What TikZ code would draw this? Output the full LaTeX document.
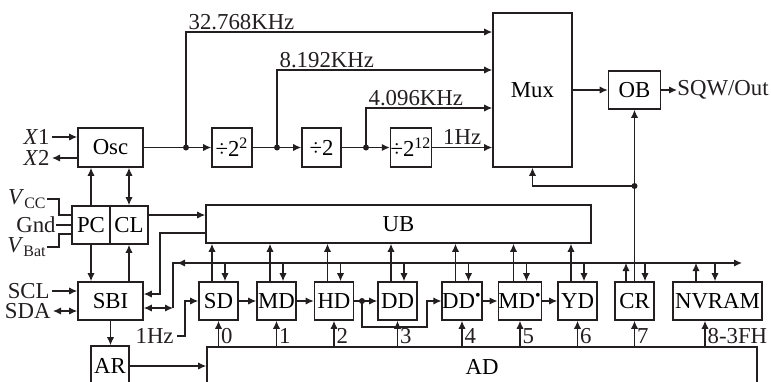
\documentclass[tikz,border=0pt]{standalone}
\usepackage{fontspec}
\setmainfont{Liberation Serif}
\usepackage{xcolor}
\usepackage{tikz}
\usetikzlibrary{arrows.meta, calc}
\definecolor{rtInk}{HTML}{231F20}
\tikzset{
  rtc-box/.style={
    rectangle, draw=rtInk, line width=0.8pt, fill=white, inner sep=0pt,
    minimum width=19.5pt, minimum height=19pt, align=center
  },
  rtc-flow/.style={-{Latex[length=4pt,width=3.6pt]}, line width=0.6pt, draw=rtInk},
  rtc-biflow/.style={{Latex[length=4pt,width=3.6pt]}-{Latex[length=4pt,width=3.6pt]},
    line width=0.6pt, draw=rtInk},
  rtc-line/.style={line width=0.6pt, draw=rtInk},
  rtc-dot/.style={circle, fill=rtInk, inner sep=0pt, minimum size=3pt},
  rtc-lbl/.style={inner sep=1pt, text=rtInk},
  rtc-pin/.style={inner sep=0pt, text=rtInk, anchor=east},
}

\begin{document}
\begin{tikzpicture}[x=0.5pt, y=-0.5pt, font=\fontsize{11.4}{13}\selectfont]
  \useasboundingbox (0,0) rectangle (771,381);

  \node[rtc-box, minimum width=32.5pt, minimum height=19.5pt] (osc) at (110.5,147.5) {Osc};
  \node[rtc-box, minimum width=20pt, minimum height=19.5pt]   (dva) at (232,147.5) {÷2\textsuperscript{2}};
  \node[rtc-box, minimum height=19.5pt]                       (dvb) at (321.5,147.5) {÷2};
  \node[rtc-box, minimum width=19pt, minimum height=19.5pt]   (dvc) at (411,147.5) {÷2\textsuperscript{12}};
  \node[rtc-box, minimum width=39.5pt, minimum height=77pt]   (mux) at (532.5,90) {Mux};
  \node[rtc-box, minimum width=26pt]                          (ob)  at (634.5,90) {OB};
  \node[rtc-lbl, anchor=west, inner sep=0pt]                  (sqw) at (677,90) {SQW/Out};

  \node[rtc-box, minimum width=19pt] (pc)  at (91,225) {PC};
  \node[rtc-box, minimum width=19pt] (cl)  at (129,225) {CL};
  \node[rtc-box, minimum width=192.5pt] (ub) at (398.5,224) {UB};
  \node[rtc-box, minimum width=32.5pt] (sbi) at (110.5,301) {SBI};
  \node[rtc-box, minimum width=19pt, minimum height=20pt] (ar) at (110,366) {AR};
  \node[rtc-box, minimum width=275pt, minimum height=20pt] (ad) at (482,367) {AD};

  \node[rtc-box] (sd)  at (218.5,301) {SD};
  \node[rtc-box] (md)  at (276.5,301) {MD};
  \node[rtc-box] (hd)  at (334,301)   {HD};
  \node[rtc-box] (dd)  at (397.5,301) {DD};
  \node[rtc-box] (dds) at (462,301)   {DD\textsuperscript{\textbullet}};
  \node[rtc-box] (mds) at (520,301)   {MD\textsuperscript{\textbullet}};
  \node[rtc-box] (yd)  at (577.5,301) {YD};
  \node[rtc-box] (cr)  at (634.5,301) {CR};
  \node[rtc-box, minimum width=44.5pt] (nv) at (717.5,301) {NVRAM};

  \node[rtc-pin] (xa)   at (50,137)  {\textit{X}1};
  \node[rtc-pin] (xb)   at (50,158)  {\textit{X}2};
  \node[rtc-pin] (vcc)  at (47,199)  {\textit{V}\textsubscript{CC}};
  \node[rtc-pin] (gnd)  at (56,225)  {Gnd};
  \node[rtc-pin] (vbat) at (47,247)  {\textit{V}\textsubscript{Bat}};
  \node[rtc-pin] (scl)  at (50,291)  {SCL};
  \node[rtc-pin] (sda)  at (51,311)  {SDA};
  \node[rtc-pin] (onehz) at (174,336) {1Hz};

  \node[rtc-dot] (tapa)  at (186,147.5) {};
  \node[rtc-dot] (tapb)  at (277,147.5) {};
  \node[rtc-dot] (tapc)  at (366,147.5) {};
  \node[rtc-dot] (crtap) at (634.5,186) {};
  \node[rtc-dot] (hdtap) at (362,301)   {};
  \coordinate (hop)     at (427,327);
  \coordinate (ubdrop)  at (160,294);
  \coordinate (sbiport) at (173,308);
  \coordinate (busl)    at (173,263);
  \coordinate (busr)    at (742,263);

  \draw[rtc-flow] ([xshift=1pt]xa.east) -- (xa.east -| osc.west);
  \draw[rtc-flow] (xb.east -| osc.west) -- ([xshift=1pt]xb.east);
  \draw[rtc-flow] (osc) -- (dva);
  \draw[rtc-flow] (dva) -- (dvb);
  \draw[rtc-flow] (dvb) -- (dvc);
  \draw[rtc-flow] (tapa.center) |- ([yshift=29pt]mux.west)
    node[pos=0.5, anchor=south west, rtc-lbl] {32.768KHz};
  \draw[rtc-flow] (tapb.center) |- ([yshift=10pt]mux.west)
    node[pos=0.5, anchor=south west, rtc-lbl] {8.192KHz};
  \draw[rtc-flow] (tapc.center) |- ([yshift=-9pt]mux.west)
    node[pos=0.5, anchor=south west, rtc-lbl] {4.096KHz};
  \draw[rtc-flow] (dvc) -- (dvc -| mux.west) node[midway, above, rtc-lbl] {1Hz};
  \draw[rtc-flow] (mux) -- (ob);
  \draw[rtc-flow] (ob) -- (sqw);
  \draw[rtc-flow] (cr.north) -- (ob.south);
  \draw[rtc-flow] (crtap.center) -| (mux.south);

  \draw[rtc-line] (vcc.east) -- ++(12,0) |- ([yshift=5pt]pc.west);
  \draw[rtc-line] (gnd.east) -- (pc.west);
  \draw[rtc-line] (vbat.east) -- ++(12,0) |- ([yshift=-4.5pt]pc.west);
  \draw[rtc-flow] (pc.north) -- (pc.north |- osc.south);
  \draw[rtc-biflow] (cl.north) -- (cl.north |- osc.south);
  \draw[rtc-flow] (pc.south) -- (pc.south |- sbi.north);
  \draw[rtc-flow] (cl.south |- sbi.north) -- (cl.south);
  \draw[rtc-flow] ([yshift=5pt]cl.east) -- ([yshift=5pt]cl.east -| ub.west);
  \draw[rtc-flow] ([yshift=-4.5pt]ub.west) -| (ubdrop) -- (ubdrop -| sbi.east);

  \draw[rtc-flow] ([xshift=1pt]scl.east) -- (scl.east -| sbi.west);
  \draw[rtc-biflow] ([xshift=1pt]sda.east) -- (sda.east -| sbi.west);
  \draw[rtc-biflow] ([yshift=-3.5pt]sbi.east) -- (sbiport);
  \draw[rtc-flow] (sbiport) -- (busl) -- (busr);
  \draw[rtc-flow] ($(busl)+(16,0)$) -- ($(busl)+(4,0)$);
  \draw[rtc-flow] (sbi.south) -- (sbi.south |- ar.north);
  \draw[rtc-flow] (ar.east) -- (ar.east -| ad.west);

  \draw[rtc-flow] ([xshift=1.5pt]onehz.east) -- ++(8,0) |- (sd.west);
  \draw[rtc-flow] (sd) -- (md);
  \draw[rtc-flow] (md) -- (hd);
  \draw[rtc-flow] (hd) -- (dd);
  \draw[rtc-flow] (hdtap.center) |- (hop) |- (dds.west);
  \draw[rtc-flow] (dds) -- (mds);
  \draw[rtc-flow] (mds) -- (yd);

  \foreach \r in {sd,md,hd,dd,dds,mds,yd}{
    \draw[rtc-flow] ([xshift=-3.25pt]\r.north) -- ([xshift=-3.25pt]\r.north |- ub.south);
    \draw[rtc-flow] ([xshift=3.25pt]\r.north |- busl) -- ([xshift=3.25pt]\r.north);
  }
  \draw[rtc-flow] ([xshift=-4.25pt]cr.north) -- ([xshift=-4.25pt]cr.north |- busl);
  \draw[rtc-flow] ([xshift=5.25pt]cr.north |- busl) -- ([xshift=5.25pt]cr.north);
  \draw[rtc-flow] ([xshift=-10.75pt]nv.north) -- ([xshift=-10.75pt]nv.north |- busl);
  \draw[rtc-flow] ([xshift=-1.25pt]nv.north |- busl) -- ([xshift=-1.25pt]nv.north);

  \foreach \r/\t in {sd/0,md/1,hd/2,dd/3,dds/4,mds/5,yd/6,cr/7}{
    \draw[rtc-flow] (\r.south |- ad.north) node[anchor=south west, rtc-lbl] {\t} -- (\r.south);
  }
  \draw[rtc-flow] ([xshift=-6.25pt]nv.south |- ad.north)
    node[anchor=south west, rtc-lbl] {8-3FH} -- ([xshift=-6.25pt]nv.south);
\end{tikzpicture}
\end{document}
